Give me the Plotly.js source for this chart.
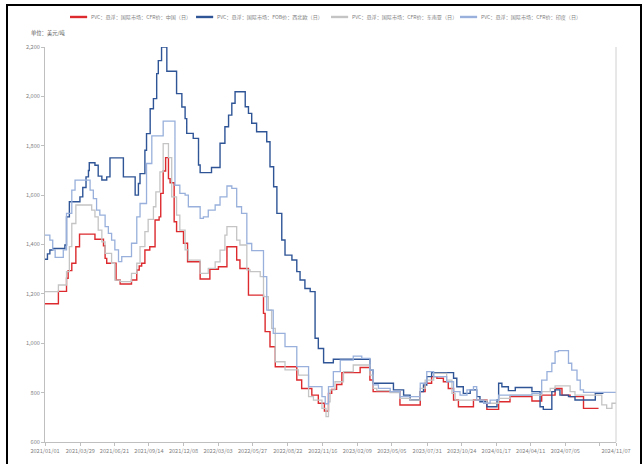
<!DOCTYPE html>
<html>
<head>
<meta charset="utf-8">
<script src="https://cdn.plot.ly/plotly-3.0.1.min.js"></script>
<style>
html,body{margin:0;padding:0;background:#fff;}
#chart{width:642px;height:464px;}
#frame{position:absolute;left:6px;top:4px;width:636px;height:470px;box-sizing:border-box;border-top:2px solid #000;border-left:2px solid #000;border-right:2px solid #000;pointer-events:none;}
</style>
</head>
<body>
<div id="chart"></div>
<div id="frame"></div>
<script>
// Series names
const seriesNames = [
  "PVC：悬浮：国际市场：CFR价：中国（日）",
  "PVC：悬浮：国际市场：FOB价：西北欧（日）",
  "PVC：悬浮：国际市场：CFR价：东南亚（日）",
  "PVC：悬浮：国际市场：CFR价：印度（日）"
];
const unitLabel = "单位：美元/吨";

// CFR China (red)
const redDates = ["2021-01-01","2021-02-03","2021-02-23","2021-02-27","2021-03-08","2021-03-18","2021-03-27","2021-05-04","2021-05-25","2021-05-29","2021-06-02","2021-06-25","2021-07-05","2021-08-02","2021-08-15","2021-08-21","2021-08-27","2021-09-04","2021-09-16","2021-09-29","2021-10-09","2021-10-13","2021-10-19","2021-10-25","2021-11-01","2021-11-05","2021-11-15","2021-11-21","2021-12-08","2021-12-18",
"2022-01-18","2022-02-11","2022-03-04","2022-03-25","2022-04-18","2022-04-26","2022-05-17","2022-06-23","2022-06-27","2022-07-09","2022-07-22","2022-09-13","2022-09-25","2022-10-20","2022-11-05","2022-11-20","2022-11-30","2022-12-08","2022-12-20",
"2023-01-02","2023-02-16","2023-03-12","2023-03-20","2023-05-25","2023-07-14","2023-07-26","2023-08-11","2023-08-24","2023-09-09","2023-09-21","2023-10-04","2023-10-16","2023-11-22","2023-12-25",
"2024-01-23","2024-02-20","2024-04-14","2024-05-08","2024-06-10","2024-06-27","2024-07-17","2024-08-19","2024-09-25"];
const redValues = [1160,1210,1263,1294,1324,1391,1442,1421,1395,1344,1324,1256,1240,1256,1297,1313,1324,1378,1391,1499,1512,1607,1698,1752,1667,1650,1492,1452,1405,1330,
1260,1300,1310,1391,1337,1303,1195,1121,1047,986,905,851,817,790,757,725,797,813,833,
881,902,851,804,750,804,838,865,858,844,817,770,743,770,732,
763,784,766,790,817,790,784,736,736];

// FOB NW Europe (dark blue)
const blueDates = ["2021-01-01","2021-01-07","2021-01-13","2021-01-20","2021-02-19","2021-02-23","2021-03-02","2021-03-28","2021-04-04","2021-04-12","2021-04-18","2021-04-20","2021-05-04","2021-05-12","2021-05-21","2021-06-02","2021-06-10","2021-07-13","2021-08-11","2021-08-19","2021-08-23","2021-09-04","2021-09-08","2021-09-17","2021-09-25","2021-10-03","2021-10-07","2021-10-15","2021-10-28","2021-11-21","2021-12-04","2021-12-12","2021-12-16",
"2022-01-01","2022-01-14","2022-01-18","2022-02-15","2022-03-08","2022-03-20","2022-03-29","2022-04-06","2022-04-14","2022-05-09","2022-05-17","2022-05-25","2022-06-06","2022-07-01","2022-07-09","2022-07-18","2022-07-26","2022-08-07","2022-08-15","2022-09-01","2022-09-13","2022-09-21","2022-10-03","2022-10-16","2022-10-28","2022-11-05","2022-11-18","2022-12-12",
"2023-03-12","2023-03-20","2023-05-09","2023-06-03","2023-06-19","2023-07-14","2023-07-22","2023-07-30","2023-08-11","2023-10-04","2023-10-12","2023-10-28","2023-11-14","2023-11-30","2023-12-08","2023-12-25",
"2024-01-19","2024-01-23","2024-01-31","2024-02-16","2024-03-04","2024-04-14","2024-05-04","2024-05-12","2024-06-02","2024-06-10","2024-06-22","2024-07-13","2024-07-29","2024-09-17","2024-10-07"];
const blueValues = [1340,1362,1378,1384,1398,1512,1573,1593,1631,1674,1700,1731,1721,1677,1661,1674,1751,1674,1600,1647,1687,1782,1849,1950,1991,2092,2145,2200,2102,2011,1957,1910,1850,
1830,1722,1691,1712,1810,1877,1924,1972,2019,1958,1931,1891,1857,1816,1715,1634,1526,1418,1357,1337,1290,1256,1222,1209,1020,979,921,935,
891,838,811,790,770,804,831,865,881,858,824,797,811,784,763,743,
770,838,824,808,821,804,743,732,804,811,790,784,770,797,797];

// CFR Southeast Asia (gray)
const grayDates = ["2021-01-01","2021-02-03","2021-02-23","2021-03-02","2021-03-08","2021-03-18","2021-04-26","2021-05-04","2021-05-12","2021-05-21","2021-05-29","2021-06-14","2021-06-22","2021-07-05","2021-08-02","2021-08-15","2021-08-23","2021-09-04","2021-09-12","2021-09-25","2021-10-01","2021-10-11","2021-10-19","2021-11-01","2021-11-09","2021-11-21","2021-11-29","2021-12-12","2021-12-20",
"2022-01-18","2022-02-07","2022-02-24","2022-03-08","2022-03-20","2022-03-25","2022-04-18","2022-04-26","2022-05-13","2022-05-21","2022-06-15","2022-06-23","2022-07-05","2022-07-13","2022-07-22","2022-08-15","2022-09-17","2022-10-12","2022-10-24","2022-11-14","2022-11-24","2022-11-30","2022-12-04","2022-12-16",
"2023-01-06","2023-01-30","2023-03-12","2023-03-20","2023-03-29","2023-05-01","2023-05-25","2023-06-19","2023-07-14","2023-07-26","2023-08-16","2023-09-17","2023-09-30","2023-10-08","2023-12-25",
"2024-01-23","2024-02-20","2024-05-08","2024-05-29","2024-06-10","2024-07-17","2024-07-29","2024-10-03","2024-10-15","2024-10-28","2024-11-07"];
const grayValues = [1209,1236,1290,1391,1485,1560,1539,1512,1458,1411,1364,1324,1256,1250,1283,1324,1391,1452,1502,1553,1613,1694,1809,1752,1593,1519,1458,1378,1337,
1283,1303,1330,1377,1438,1472,1418,1398,1297,1290,1270,1189,1134,1060,925,892,871,784,770,736,703,763,811,844,
885,912,871,817,808,800,777,770,817,851,878,851,797,770,757,
777,790,804,817,827,804,790,750,736,757,757];

// CFR India (light blue)
const lightDates = ["2021-01-01","2021-01-13","2021-01-20","2021-01-26","2021-02-15","2021-02-23","2021-03-08","2021-03-16","2021-04-22","2021-04-30","2021-05-08","2021-05-16","2021-05-29","2021-06-06","2021-06-14","2021-06-22","2021-07-01","2021-07-09","2021-08-02","2021-08-15","2021-08-23","2021-09-08","2021-09-21","2021-10-19","2021-11-17","2021-11-29","2021-12-12","2021-12-20",
"2022-01-18","2022-01-26","2022-02-07","2022-02-24","2022-03-08","2022-03-25","2022-04-06","2022-04-18","2022-04-30","2022-05-13","2022-05-25","2022-06-23","2022-07-01","2022-07-17","2022-08-15","2022-09-13","2022-10-12","2022-11-14","2022-11-22","2022-11-30","2022-12-12","2022-12-29",
"2023-01-30","2023-02-20","2023-03-12","2023-03-20","2023-04-02","2023-05-01","2023-05-25","2023-07-14","2023-07-30","2023-08-16","2023-09-17","2023-10-04","2023-10-20","2023-11-06","2023-11-22","2023-11-30","2023-12-17",
"2024-01-02","2024-01-23","2024-04-14","2024-05-08","2024-05-21","2024-06-02","2024-06-10","2024-06-18","2024-07-13","2024-07-21","2024-08-03","2024-08-11","2024-08-19","2024-11-07"];
const lightValues = [1438,1418,1378,1348,1378,1526,1620,1661,1620,1586,1539,1519,1472,1445,1418,1378,1331,1351,1405,1512,1566,1728,1840,1900,1640,1607,1600,1553,
1506,1512,1539,1560,1593,1637,1627,1553,1526,1404,1375,1270,1134,1040,986,905,824,784,755,824,885,932,
948,939,891,831,817,804,784,838,885,865,844,804,790,811,824,770,757,
770,790,797,851,885,919,966,970,919,891,851,811,801,801];

// X-axis ticks
const tickDates = ["2021-01-01","2021-03-29","2021-06-21","2021-09-14","2021-12-08","2022-03-03","2022-05-27","2022-08-22","2022-11-16","2023-02-09","2023-05-05","2023-07-31","2023-10-24","2024-01-17","2024-04-11","2024-07-05","2024-09-28","2024-11-07"];
const tickLabels = ["2021/01/01","2021/03/29","2021/06/21","2021/09/14","2021/12/08","2022/03/03","2022/05/27","2022/08/22","2022/11/16","2023/02/09","2023/05/05","2023/07/31","2023/10/24","2024/01/17","2024/04/11","2024/07/05","","2024/11/07"];

const colors = ["#dc2a2e","#2f5597","#c4c4c4","#98b0db"];
const widths = [1.4,1.4,1.3,1.3];
const xs = [redDates, blueDates, grayDates, lightDates];
const ys = [redValues, blueValues, grayValues, lightValues];

const FONT = "'Noto Sans CJK SC', 'Liberation Sans', sans-serif";

const traces = xs.map((x, i) => ({
  type: 'scatter', mode: 'lines', x: x, y: ys[i], name: seriesNames[i],
  line: {color: colors[i], width: widths[i], shape: 'hv'},
  showlegend: false, hoverinfo: 'skip'
}));

// Manual legend (line sample + label)
const legX = [0.0438, 0.2645, 0.5009, 0.7268];
const legY = 1.076;
const shapes = [];
const annotations = [];
legX.forEach((lx, i) => {
  shapes.push({type:'line', xref:'paper', yref:'paper', x0:lx, x1:lx+0.030, y0:legY, y1:legY,
    line:{color:colors[i], width:2.4}});
  annotations.push({xref:'paper', yref:'paper', x:lx+0.034, y:legY, xanchor:'left', yanchor:'middle',
    text: seriesNames[i], showarrow:false, font:{family:FONT, size:5.1, color:'#7f7f7f'}});
});
annotations.push({xref:'paper', yref:'paper', x:0, xshift:-16, y:1.035, xanchor:'left', yanchor:'middle',
  text: unitLabel, showarrow:false, font:{family:FONT, size:5.3, color:'#595959'}});
// right border line of the plot area
shapes.push({type:'line', xref:'paper', yref:'paper', x0:1, x1:1, y0:0, y1:1, line:{color:'#d0d0d0', width:1}});

const layout = {
  width: 642, height: 464,
  margin: {l:45, r:26, t:47, b:22},
  paper_bgcolor: '#fff', plot_bgcolor: '#fff',
  font: {family: FONT, size: 6, color: '#7f7f7f'},
  xaxis: {
    type: 'date', range: ['2021-01-01','2024-11-07'],
    tickmode: 'array', tickvals: tickDates, ticktext: tickLabels,
    showgrid: false, zeroline: false,
    showline: true, linecolor: '#bfbfbf', linewidth: 1,
    ticks: 'outside', ticklen: 3, tickcolor: '#bfbfbf',
    tickfont: {family: FONT, size: 5.6, color: '#7f7f7f'}, tickangle: 0
  },
  yaxis: {
    range: [600, 2200], tickmode: 'linear', tick0: 600, dtick: 200, tickformat: ',d',
    showgrid: false, zeroline: false,
    showline: true, linecolor: '#bfbfbf', linewidth: 1,
    ticks: 'outside', ticklen: 3, tickcolor: '#bfbfbf',
    tickfont: {family: FONT, size: 5.6, color: '#7f7f7f'}
  },
  shapes: shapes,
  annotations: annotations,
  showlegend: false
};

Plotly.newPlot('chart', traces, layout, {displayModeBar: false, staticPlot: true});
</script>
</body>
</html>
